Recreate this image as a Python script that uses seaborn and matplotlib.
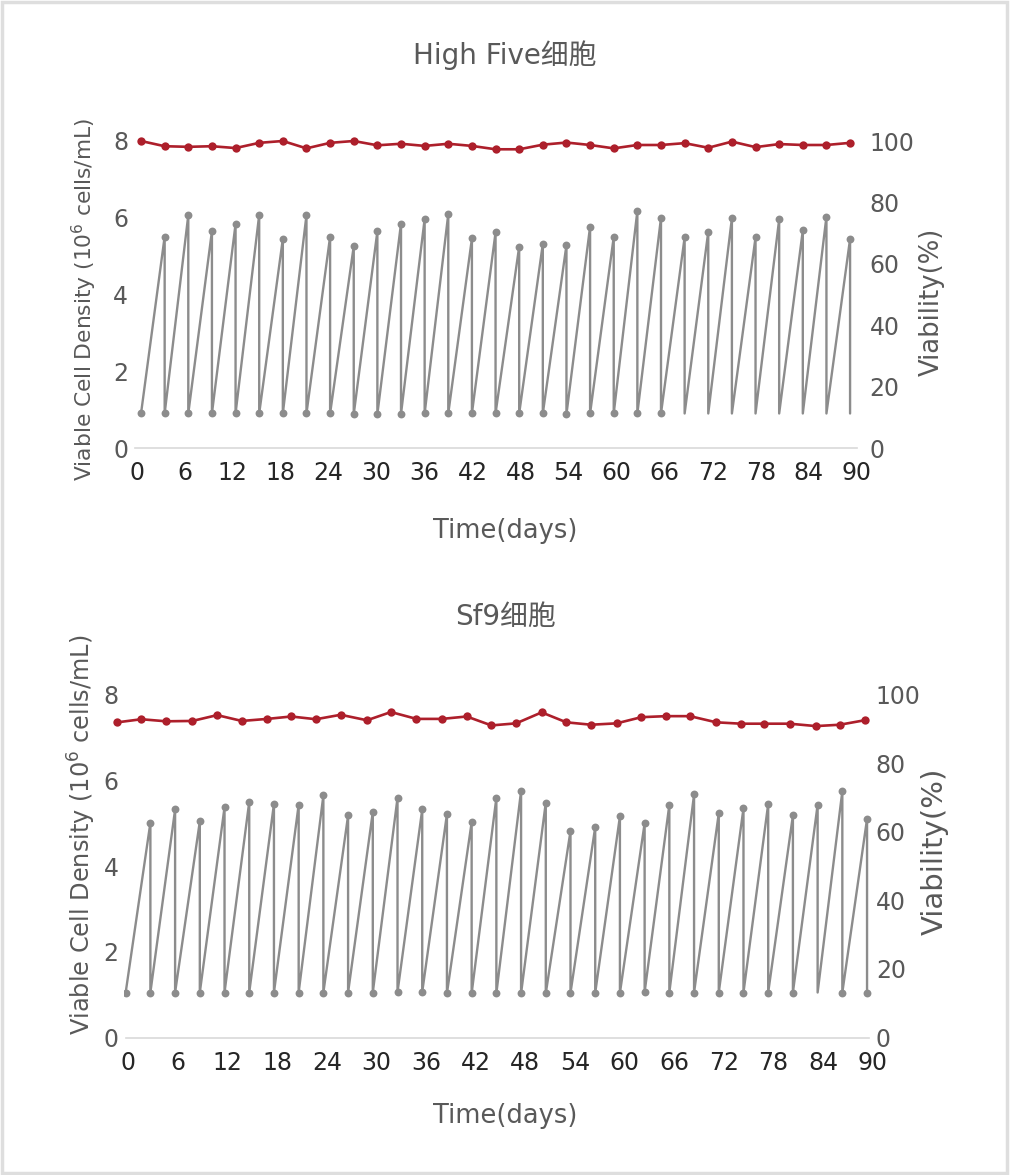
import matplotlib
matplotlib.use("Agg")
import matplotlib.pyplot as plt
import matplotlib.patches as patches
import numpy as np
import pandas as pd
import seaborn as sns

# Sampling days (passage every 3 days)
days = [0, 3, 6, 9, 12, 15, 18, 21, 24, 27, 30, 33, 36, 39, 42, 45,
        48, 51, 54, 57, 60, 63, 66, 69, 72, 75, 78, 81, 84, 87, 90]

# High Five: viable cell density before passage (days 3..90)
hf_peak = [5.51, 6.07, 5.65, 5.84, 6.08, 5.45, 6.07, 5.51, 5.26, 5.65,
           5.85, 5.97, 6.10, 5.46, 5.62, 5.25, 5.32, 5.29, 5.77, 5.50,
           6.18, 6.00, 5.49, 5.64, 5.99, 5.49, 5.96, 5.67, 6.03, 5.45]
# High Five: seeding density after passage (days 0..90)
hf_low = [0.90, 0.90, 0.90, 0.90, 0.90, 0.90, 0.90, 0.90, 0.90, 0.88,
          0.88, 0.89, 0.90, 0.90, 0.90, 0.90, 0.90, 0.90, 0.88, 0.90,
          0.90, 0.90, 0.90, 0.90, 0.90, 0.90, 0.90, 0.90, 0.90, 0.90, 0.90]
hf_low_marked = [True] * 23 + [False] * 8
# High Five: viability (%)
hf_viab = [100.0, 98.3, 98.1, 98.3, 97.7, 99.4, 100.0, 97.6, 99.4, 100.0,
           98.6, 99.1, 98.4, 99.1, 98.4, 97.3, 97.3, 98.8, 99.5, 98.7,
           97.6, 98.7, 98.7, 99.3, 97.8, 99.8, 98.0, 99.0, 98.7, 98.7, 99.4]

# Sf9
sf9_peak = [5.01, 5.32, 5.04, 5.37, 5.50, 5.45, 5.43, 5.65, 5.18, 5.26,
            5.59, 5.32, 5.21, 5.02, 5.59, 5.75, 5.48, 4.82, 4.91, 5.16,
            5.00, 5.43, 5.67, 5.23, 5.35, 5.45, 5.18, 5.43, 5.75, 5.10]
sf9_low = [1.05, 1.05, 1.05, 1.05, 1.05, 1.05, 1.05, 1.05, 1.05, 1.05,
           1.05, 1.06, 1.06, 1.03, 1.03, 1.03, 1.03, 1.03, 1.04, 1.04,
           1.04, 1.06, 1.05, 1.05, 1.05, 1.05, 1.05, 1.05, 1.05, 1.05, 1.05]
sf9_low_marked = [True] * 28 + [False] + [True] * 2
sf9_viab_days = [-1.0, 1.9, 4.9, 8.1, 11.1, 14.1, 17.2, 20.1, 23.1, 26.1,
                 29.3, 32.2, 35.3, 38.4, 41.4, 44.4, 47.4, 50.5, 53.5, 56.5,
                 59.6, 62.6, 65.6, 68.5, 71.7, 74.7, 77.5, 80.6, 83.8, 86.7, 89.7]
sf9_viab = [91.9, 92.8, 92.2, 92.3, 94.0, 92.3, 92.9, 93.6, 92.8, 94.1,
            92.5, 94.9, 92.9, 92.9, 93.6, 91.0, 91.6, 94.8, 91.9, 91.2,
            91.6, 93.4, 93.7, 93.7, 91.9, 91.5, 91.5, 91.5, 90.8, 91.2, 92.5]

tick_labels = [str(v) for v in range(0, 91, 6)]

GRAY = "#8c8c8c"
RED = "#ad1f2b"
TEXT = "#595959"

sns.set_theme(style="white")
plt.rcParams["font.family"] = ["DejaVu Sans", "Noto Sans CJK SC"]


def sawtooth_frame(peak, low, marked):
    """Build the density trace: seed -> grow to peak -> passage back to seed."""
    rows = []
    for i, d in enumerate(days):
        if i > 0:
            rows.append((d, peak[i - 1], True))
        rows.append((d, low[i], marked[i]))
    return pd.DataFrame(rows, columns=["day", "vcd", "marked"])


def draw_panel(fig, rect, title, title_y, peak, low, marked, viab_x, viab,
               xlim, tick_pos, spine_bounds, pads, label_sizes, label_pos):
    ax = fig.add_axes(rect)
    df = sawtooth_frame(peak, low, marked)
    sns.lineplot(data=df, x="day", y="vcd", sort=False, estimator=None,
                 color=GRAY, lw=1.7, ax=ax)
    sns.scatterplot(data=df[df["marked"]], x="day", y="vcd", color=GRAY,
                    s=32, linewidth=0, ax=ax, zorder=3)
    ax.set_xlim(*xlim)
    ax.set_ylim(0, 8)
    ax.set_yticks([0, 2, 4, 6, 8])
    ax.set_xticks(tick_pos)
    ax.set_xticklabels(tick_labels)

    ax2 = ax.twinx()
    sns.lineplot(x=viab_x, y=viab, color=RED, lw=1.9, marker="o",
                 markersize=6, markeredgewidth=0, clip_on=False, ax=ax2)
    ax2.set_ylim(0, 100)
    ax2.set_yticks([0, 20, 40, 60, 80, 100])

    for a in (ax, ax2):
        for s in a.spines.values():
            s.set_visible(False)
    ax.spines["bottom"].set_visible(True)
    ax.spines["bottom"].set_color("#d9d9d9")
    ax.spines["bottom"].set_linewidth(1.2)
    ax.spines["bottom"].set_bounds(*spine_bounds)

    ax.tick_params(axis="x", length=0, pad=pads[0], labelsize=17, labelcolor="#262626")
    ax.tick_params(axis="y", length=0, pad=pads[1], labelsize=17, labelcolor=TEXT)
    ax2.tick_params(axis="y", length=0, pad=pads[2], labelsize=17, labelcolor=TEXT)

    ax.set_xlabel("Time(days)", fontsize=18.5, color=TEXT, labelpad=pads[3])
    ax.set_ylabel("Viable Cell Density (10$^{6}$ cells/mL)", fontsize=label_sizes[0],
                  color=TEXT, labelpad=pads[4])
    ax2.set_ylabel("Viability(%)", fontsize=label_sizes[1], color=TEXT, labelpad=pads[5])
    ax.xaxis.label.set_x(label_pos[0])
    ax.yaxis.label.set_y(label_pos[1])
    ax2.yaxis.label.set_y(label_pos[2])
    fig.text(0.5, title_y, title, ha="center", va="center", fontsize=20, color=TEXT)
    return ax


fig = plt.figure(figsize=(10.1, 11.75), dpi=100)

draw_panel(fig, [0.1337, 0.6187, 0.7149, 0.2613], "High Five细胞", 1 - 55 / 1175,
           hf_peak, hf_low, hf_low_marked, days, hf_viab,
           (-0.76, 90.89), np.linspace(-0.57, 90.85, 16), (-0.76, 90.89),
           (9, 5, 9, 24, 10, 3), (15.7, 18.6), (0.512, 0.485, 0.476))

draw_panel(fig, [0.1228, 0.1170, 0.7430, 0.2919], "Sf9细胞", 1 - 617 / 1175,
           sf9_peak, sf9_low, sf9_low_marked, sf9_viab_days, sf9_viab,
           (-0.2, 90.9), np.linspace(0.32, 90.69, 16), (0.1, 90.2),
           (10, 4, 1, 20, 4, 0), (17.3, 21), (0.508, 0.592, 0.543))

# light frame around the whole picture
fig.patches.append(patches.Rectangle((0.002, 0.002), 0.995, 0.996, transform=fig.transFigure,
                                     fill=False, edgecolor="#dedede", linewidth=2.5))

fig.savefig("out.png", dpi=100)
